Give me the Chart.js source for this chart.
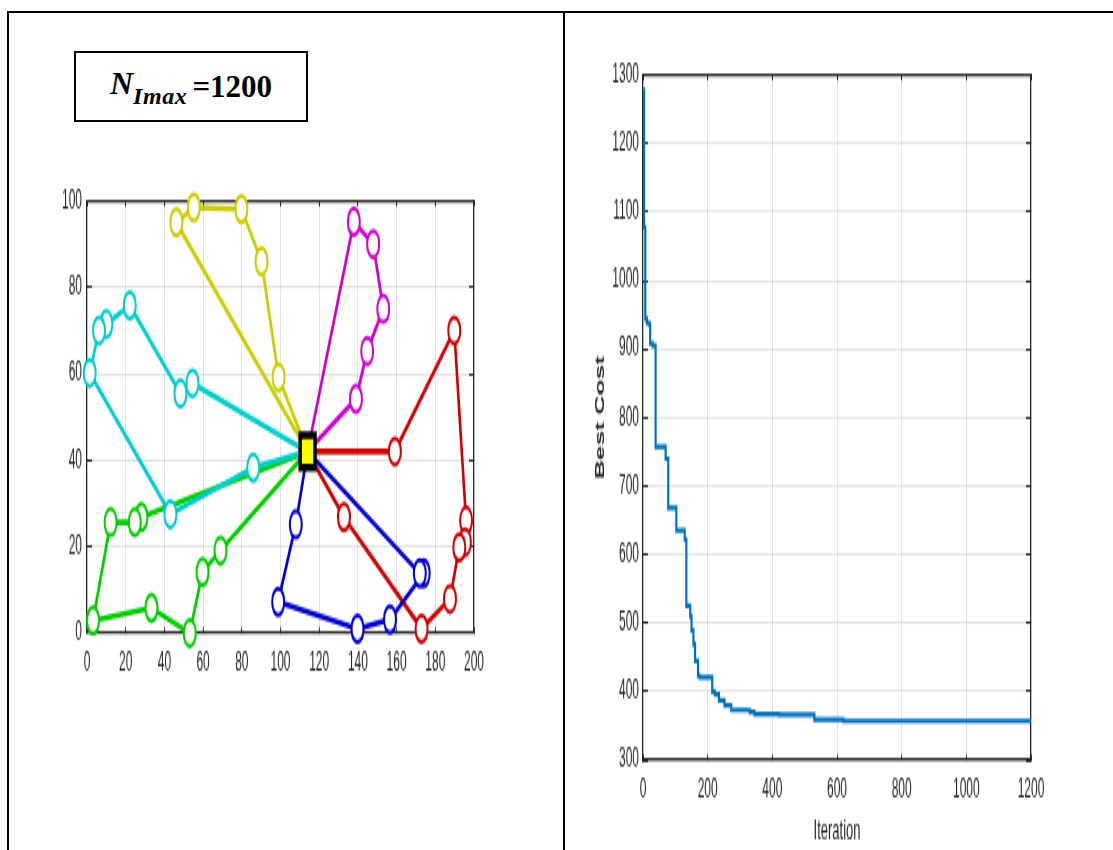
<!DOCTYPE html>
<html>
<head>
<meta charset="utf-8">
<script src="https://cdn.jsdelivr.net/npm/chart.js@4.4.1/dist/chart.umd.min.js"></script>
<style>
    body { margin: 0; background: #fff; width: 1113px; height: 850px; overflow: hidden; position: relative; }
    .line { position: absolute; background: #000; }
    .nbox {
        position: absolute; left: 74px; top: 51px; width: 230px; height: 67px;
        border: 2px solid #000; display: flex; align-items: center; justify-content: center;
        font-family: "Liberation Serif", "DejaVu Serif", serif; font-weight: bold; color: #000;
    }
    .nbox .n { font-style: italic; font-size: 32px; }
    .nbox sub { font-style: italic; font-size: 24px; letter-spacing: 0.6px; position: relative; top: 2px; }
    .nbox .v { font-size: 31px; margin-left: 5px; }
    /* the source figure was stretched vertically, so the charts are too */
    .stretch { position: absolute; transform: scaleY(2.2); transform-origin: 0 0; }
</style>
</head>
<body>
<div class="line" style="left:7px; top:11px; width:1106px; height:2px;"></div>
<div class="line" style="left:7px; top:11px; width:2px; height:839px;"></div>
<div class="line" style="left:563px; top:11px; width:2px; height:839px;"></div>

<div class="nbox"><span class="n">N<sub>Imax</sub></span><span class="v">=1200</span></div>

<div class="stretch" style="left:20px; top:180px;">
    <canvas id="routeChart" width="480" height="228"></canvas>
</div>
<div class="stretch" style="left:585px; top:56px;">
    <canvas id="costChart" width="470" height="360"></canvas>
</div>

<script>
// depot and vehicle routes (x, y), each starts and ends at the depot
const depot = [114, 42];
const routeYellow  = [[114, 42], [99, 59.2], [90.2, 86], [79.8, 98.1], [55.2, 98.5], [46.2, 95], [114, 42]];
const routeMagenta = [[114, 42], [139, 54.2], [144.8, 65.2], [153.1, 75], [147.9, 90], [137.9, 95.2], [114, 42]];
const routeCyan    = [[114, 42], [54.5, 57.8], [48.3, 55.4], [22.1, 75.8], [10, 71.5], [6.2, 70], [1.4, 60.2], [43.1, 27.5], [85.9, 38.3], [114, 42]];
const routeGreen   = [[114, 42], [28.1, 26.8], [24.7, 25.6], [12.2, 25.6], [3.1, 2.9], [33.3, 5.8], [53.1, 0], [59.7, 14.1], [69, 19.1], [114, 42]];
const routeBlue    = [[114, 42], [107.9, 25.1], [98.8, 7.2], [139.8, 1], [156.6, 3.1], [174, 13.8], [172, 13.8], [114, 42]];
const routeRed     = [[114, 42], [159.1, 42], [189.8, 70], [195.9, 26], [195.3, 21], [192.4, 19.8], [187.6, 7.9], [172.9, 1], [132.8, 26.8], [114, 42]];

// convergence: iteration where the best cost changes, and the new best cost
const iterSteps = [1, 3, 7, 12, 20, 22, 30, 39, 70, 78, 103, 129, 134, 146, 150, 156, 161, 170, 175, 214, 222, 235, 252, 273, 330, 345, 420, 530, 620, 1200];
const bestCost  = [1278, 1078, 944, 938, 935, 908, 905, 757, 740, 668, 635, 622, 525, 510, 489, 469, 445, 423, 421, 400, 396, 387, 380, 373, 370, 367, 366, 359, 357, 357];

const routeXTicks = [0, 200, 20];
const routeYTicks = [0, 100, 20];
const costXTicks = [0, 1200, 200];
const costYTicks = [300, 1300, 100];

const tickFont = { family: "'Liberation Sans', Arial, sans-serif", size: 12 };
const tickColor = '#262626';
const gridColor = 'rgba(0,0,0,0.11)';
const axisBorder = { color: '#262626', width: 1.2 };

function toPoints(route) {
    return route.map(function (p) { return { x: p[0], y: p[1] }; });
}

function routeSet(route, color) {
    return {
        data: toPoints(route),
        showLine: true,
        borderColor: color,
        borderWidth: 2.6,
        pointBackgroundColor: '#fff',
        pointBorderColor: color,
        pointBorderWidth: 2,
        pointRadius: function (ctx) {
            return (ctx.dataIndex === 0 || ctx.dataIndex === route.length - 1) ? 0 : 6;
        },
        clip: false
    };
}

function axes(xr, yr, sizes, tl) {
    const fmt = function (v) { return String(v); };
    return {
        x: {
            type: 'linear', position: 'bottom', min: xr[0], max: xr[1],
            ticks: { stepSize: xr[2], padding: 6.8 + tl[0], font: tickFont, color: tickColor, autoSkip: false, maxRotation: 0, callback: fmt },
            grid: { color: gridColor, tickColor: tickColor, tickLength: -tl[0] },
            border: axisBorder,
            title: sizes.xTitle || { display: false },
            afterFit: function (s) { s.height = sizes.bottom; }
        },
        y: {
            type: 'linear', position: 'left', min: yr[0], max: yr[1],
            ticks: { stepSize: yr[2], padding: sizes.yPad + tl[1], font: tickFont, color: tickColor, autoSkip: false, callback: fmt },
            grid: { color: gridColor, tickColor: tickColor, tickLength: -tl[1] },
            border: axisBorder,
            title: sizes.yTitle || { display: false },
            // labels may hang over the plot edges; keep the plot box where it is
            afterFit: function (s) { s.width = sizes.left; s.paddingTop = 0; s.paddingBottom = 0; }
        },
        x2: {
            type: 'linear', position: 'top', min: xr[0], max: xr[1],
            ticks: { stepSize: xr[2], display: false },
            grid: { drawOnChartArea: false, tickColor: tickColor, tickLength: -tl[0] },
            border: axisBorder,
            afterFit: function (s) { s.height = sizes.top; }
        },
        y2: {
            type: 'linear', position: 'right', min: yr[0], max: yr[1],
            ticks: { stepSize: yr[2], display: false },
            grid: { drawOnChartArea: false, tickColor: tickColor, tickLength: -tl[1] },
            border: axisBorder,
            afterFit: function (s) { s.width = sizes.right; s.paddingTop = 0; s.paddingBottom = 0; }
        }
    };
}

new Chart(document.getElementById('routeChart'), {
    type: 'scatter',
    data: {
        datasets: [
            {
                data: [{ x: depot[0], y: depot[1] }],
                pointStyle: 'rect',
                pointRadius: 10.5,
                pointBackgroundColor: '#ffff00',
                pointBorderColor: '#000',
                pointBorderWidth: 3.5,
                clip: false
            },
            routeSet(routeCyan, '#00cccc'),
            routeSet(routeGreen, '#00cc00'),
            routeSet(routeBlue, '#0000cc'),
            routeSet(routeRed, '#cc0000'),
            routeSet(routeMagenta, '#cc00cc'),
            routeSet(routeYellow, '#cccc00')
        ]
    },
    options: {
        responsive: false,
        animation: false,
        layout: { padding: 0, autoPadding: false },
        plugins: { legend: { display: false }, tooltip: { enabled: false } },
        scales: axes(routeXTicks, routeYTicks, { left: 67, right: 26, top: 9.5, bottom: 22.1, yPad: 5 }, [2.5, 5])
    }
});

new Chart(document.getElementById('costChart'), {
    type: 'scatter',
    data: {
        datasets: [{
            data: iterSteps.map(function (it, i) { return { x: it, y: bestCost[i] }; }),
            showLine: true,
            stepped: true,
            borderColor: '#0072bd',
            borderWidth: 2.2,
            pointRadius: 0
        }]
    },
    options: {
        responsive: false,
        animation: false,
        layout: { padding: 0, autoPadding: false },
        plugins: { legend: { display: false }, tooltip: { enabled: false } },
        scales: axes(costXTicks, costYTicks, {
            left: 58, right: 24, top: 8.6, bottom: 40, yPad: 4,
            xTitle: { display: true, text: 'Iteration', color: tickColor, padding: { top: 2, bottom: 0 },
                      font: { family: "'Liberation Sans', Arial, sans-serif", size: 13 } },
            yTitle: { display: true, text: 'Best Cost', color: '#262626', padding: { top: 8, bottom: 0 },
                      font: { family: "'Liberation Sans', Arial, sans-serif", size: 12, weight: 'bold' } }
        }, [2.5, 5])
    }
});
</script>
</body>
</html>
